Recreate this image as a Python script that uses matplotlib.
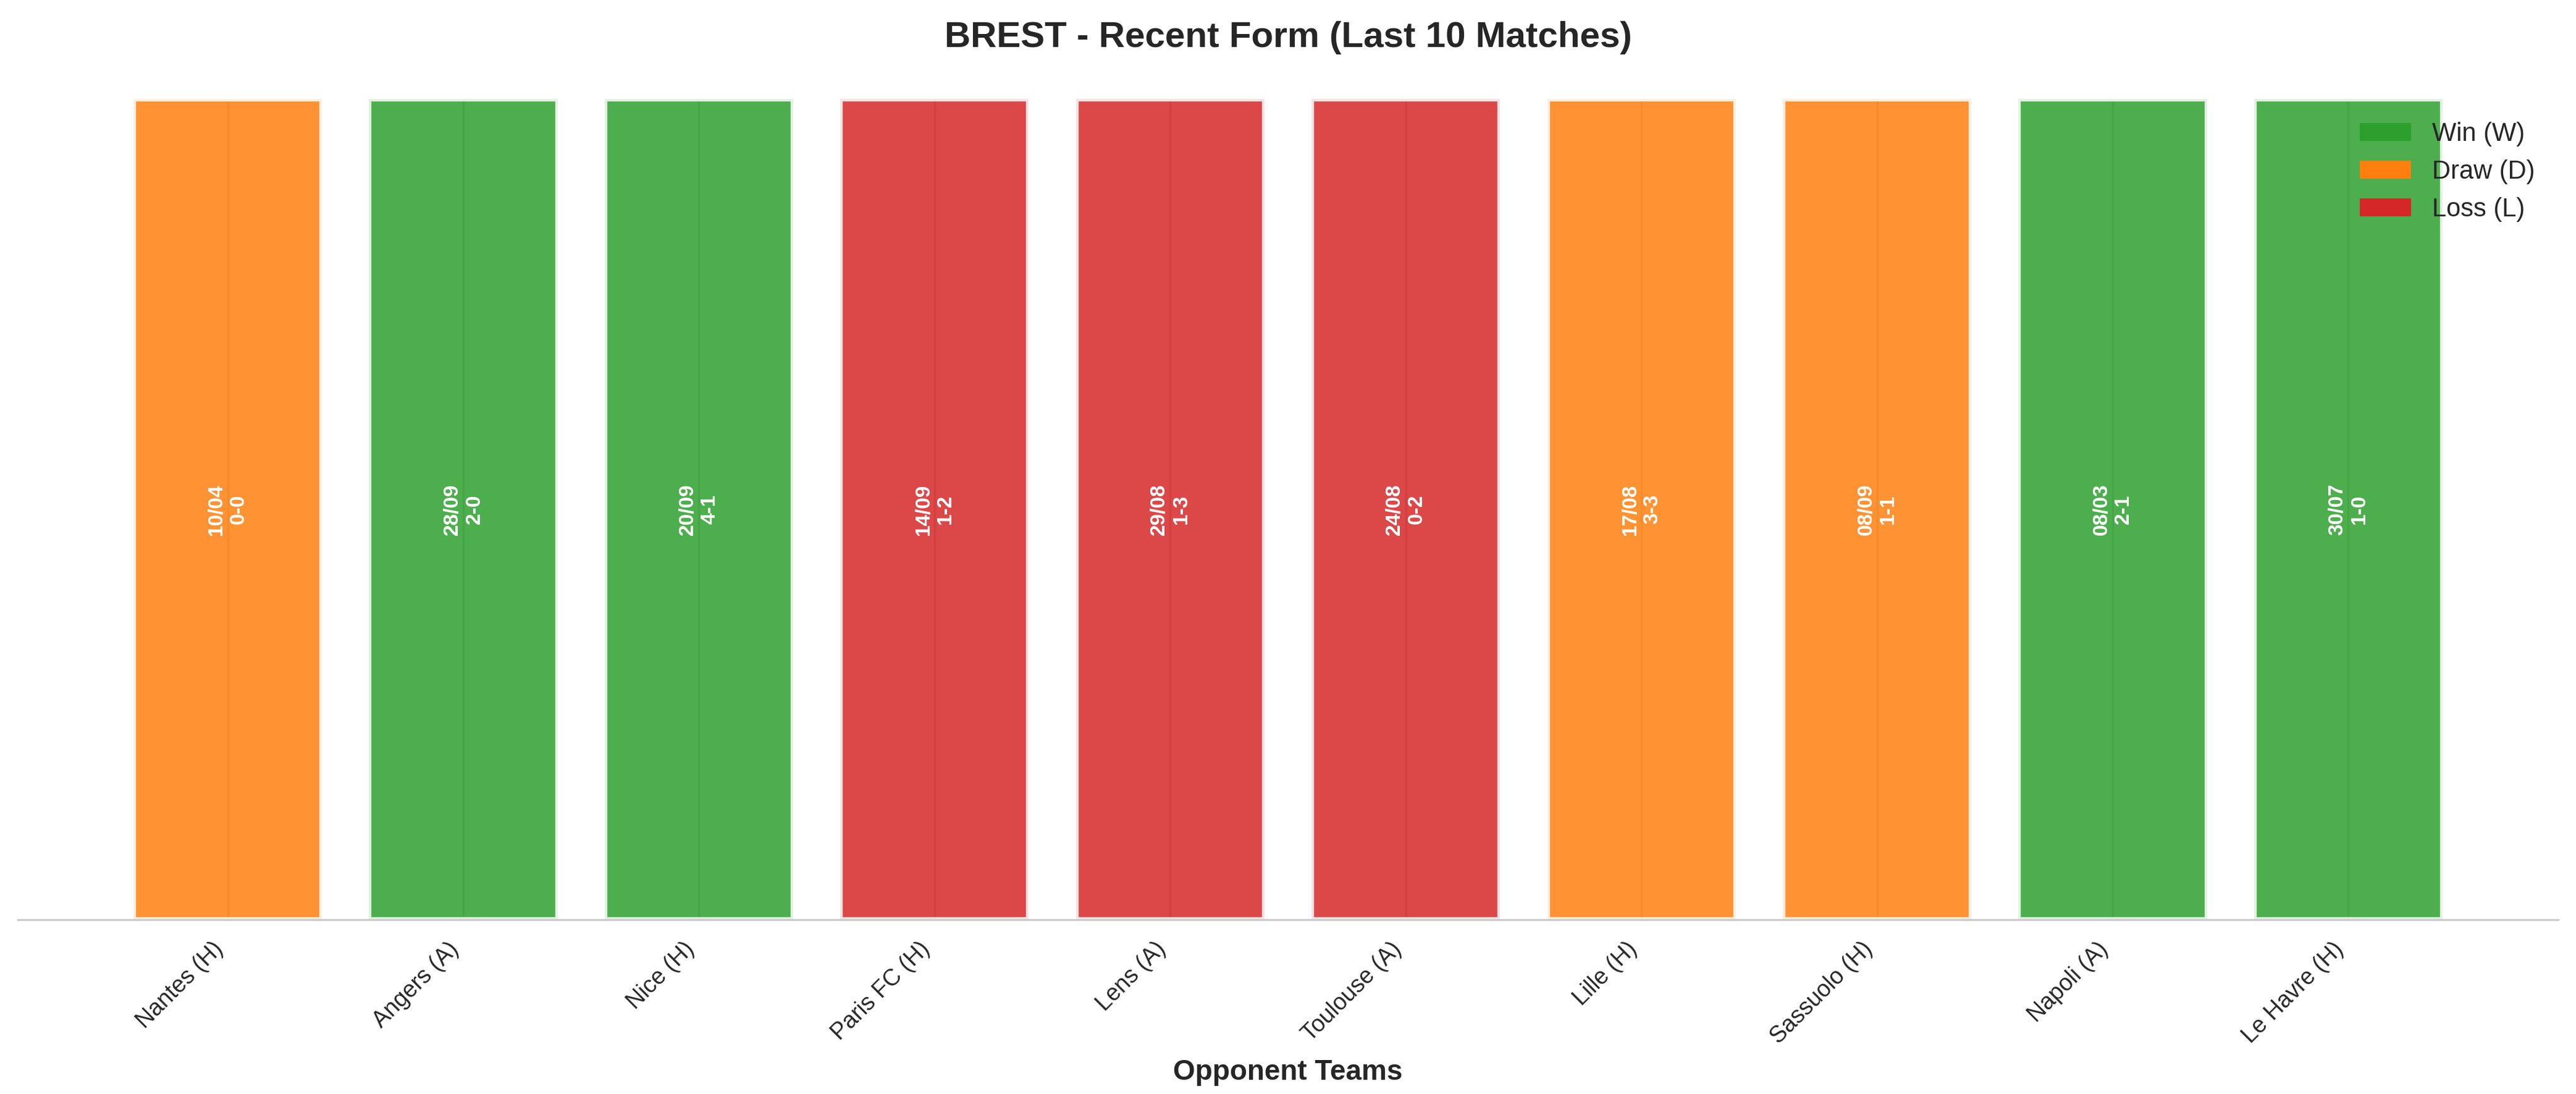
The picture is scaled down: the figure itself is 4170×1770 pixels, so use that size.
import matplotlib
matplotlib.use("Agg")
import matplotlib.pyplot as plt
import seaborn as sns
from matplotlib.patches import Patch

opponents = ['Nantes (H)', 'Angers (A)', 'Nice (H)', 'Paris FC (H)', 'Lens (A)',
             'Toulouse (A)', 'Lille (H)', 'Sassuolo (H)', 'Napoli (A)', 'Le Havre (H)']
results = ['D', 'W', 'W', 'L', 'L', 'L', 'D', 'D', 'W', 'W']
dates = ['10/04', '28/09', '20/09', '14/09', '29/08', '24/08', '17/08', '08/09', '08/03', '30/07']
scores = ['0-0', '2-0', '4-1', '1-2', '1-3', '0-2', '3-3', '1-1', '2-1', '1-0']
bar_height = [1] * len(opponents)

color_map = {'W': '#2ca02c', 'D': '#ff7f0e', 'L': '#d62728'}
legend_labels = [('W', 'Win (W)'), ('D', 'Draw (D)'), ('L', 'Loss (L)')]

sns.set_style("whitegrid")
plt.rcParams['font.family'] = ['Liberation Sans', 'DejaVu Sans']

fig = plt.figure(figsize=(13.9, 5.9), dpi=300)
ax = fig.add_axes([0.007, 0.1592, 0.986, 0.7505])

x = list(range(len(opponents)))
colors = [color_map[r] for r in results]
bars = ax.bar(x, bar_height, width=0.8, color=colors, alpha=0.85,
              edgecolor='white', linewidth=2)
for b in bars:
    b.set_clip_on(False)

for i in x:
    ax.text(i, 0.5, f"{dates[i]}\n{scores[i]}", ha='center', va='center',
            rotation=90, color='white', fontsize=8, fontweight='bold')

ax.set_xticks(x)
ax.set_xticklabels(opponents, rotation=45, ha='right', fontsize=9)
ax.set_yticks([])
ax.set_ylim(0, 1)
ax.grid(axis='y', visible=False)
ax.set_xlabel('Opponent Teams', fontsize=11, fontweight='bold')
ax.set_title('BREST - Recent Form (Last 10 Matches)', fontsize=14, fontweight='bold', pad=20)

for s in ['left', 'top', 'right']:
    ax.spines[s].set_visible(False)
ax.spines['bottom'].set_color('0.8')
ax.spines['bottom'].set_zorder(5)

handles = [Patch(facecolor=color_map[k], edgecolor='none', label=l) for k, l in legend_labels]
ax.legend(handles=handles, loc='upper right', frameon=False, fontsize=10)

fig.savefig('out.png', dpi=300)
